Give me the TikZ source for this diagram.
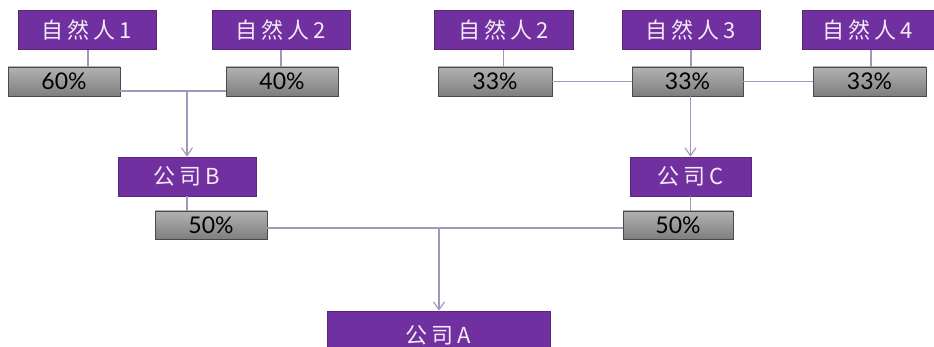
\documentclass[tikz,border=0pt]{standalone}
\usepackage{fontspec}
\setmainfont{Lato}
\newfontfamily\cjk[LetterSpace=18]{Noto Sans CJK SC}
\usetikzlibrary{arrows.meta}
\definecolor{purp}{HTML}{7030A0}
\definecolor{ptext}{HTML}{F6EAF6}
\definecolor{lnk}{HTML}{A396BE}
\definecolor{gtop}{HTML}{B2B2B2}
\definecolor{gbot}{HTML}{7E7E7E}
\definecolor{gborder}{HTML}{4A4A4A}
\tikzset{
  pbox/.style={fill=purp, draw=purp!80!black, line width=0.6pt, inner sep=0pt,
    minimum height=39pt, text=ptext, font=\cjk\fontsize{22}{24}\selectfont},
  gbox/.style={top color=gtop, bottom color=gbot, draw=gborder, line width=0.8pt,
    inner sep=0pt, minimum height=29pt, minimum width=112pt, text=black,
    font=\fontsize{23}{25}\selectfont},
  lnkline/.style={draw=lnk, line width=1.1pt},
  arr/.style={lnkline, -{Straight Barb[length=8pt,width=11pt,line width=1.1pt]}}
}
\begin{document}
\begin{tikzpicture}[x=1pt,y=-1pt]
\useasboundingbox[fill=white] (0,0) rectangle (934,347);
% top persons
\node[pbox, minimum width=138pt] (p1) at (87,30) {自然人1};
\node[pbox, minimum width=138pt] (p2) at (281,30) {自然人2};
\node[pbox, minimum width=139pt] (p3) at (503.5,30) {自然人2};
\node[pbox, minimum width=138pt] (p4) at (691,30) {自然人3};
\node[pbox, minimum width=132pt] (p5) at (868,30) {自然人4};
% percentages row 1
\node[gbox] (g1) at (64,81.5) {60\%};
\node[gbox] (g2) at (282,81.5) {40\%};
\node[gbox, minimum width=114pt] (g3) at (495,81.5) {33\%};
\node[gbox, minimum width=111pt] (g4) at (687.5,81.5) {33\%};
\node[gbox, minimum width=113pt] (g5) at (869.5,81.5) {33\%};
% companies
\node[pbox, minimum width=138pt] (cB) at (187,176.5) {公司B};
\node[pbox, minimum width=121pt] (cC) at (690.5,176.5) {公司C};
\node[gbox, minimum height=28pt] (gB) at (211,225) {50\%};
\node[gbox, minimum height=28pt, minimum width=110pt] (gC) at (678,225) {50\%};
\node[pbox, minimum width=223pt, minimum height=49pt] (cA) at (438.5,335.5) {公司A};
% coordinates
\coordinate (jB) at (187,91);
\coordinate (jA) at (439,228);
% person to share links
\draw[lnkline] (p1.south -| 88,0) -- (g1.north -| 88,0);
\draw[lnkline] (p2.south) -- (p2.south |- g2.north);
\draw[lnkline] (p3.south) -- (p3.south |- g3.north);
\draw[lnkline] (p4.south) -- (p4.south |- g4.north);
\draw[lnkline] (p5.south -| 871,0) -- (g5.north -| 871,0);
% horizontal joins
\draw[lnkline] (g1.east |- jB) -- (g2.west |- jB);
\draw[arr] (jB) -- (cB.north);
\draw[lnkline] (g3.east) -- (g4.west);
\draw[lnkline] (g4.east) -- (g5.west);
\draw[arr] (cC.north |- g4.south) -- (cC.north);
% company to share
\draw[lnkline] (cB.south) -- (cB.south |- gB.north);
\draw[lnkline] (cC.south) -- (cC.south |- gC.north);
\draw[lnkline] (gB.east |- jA) -- (gC.west |- jA);
\draw[arr] (jA) -- (cA.north -| jA);
\end{tikzpicture}
\end{document}
